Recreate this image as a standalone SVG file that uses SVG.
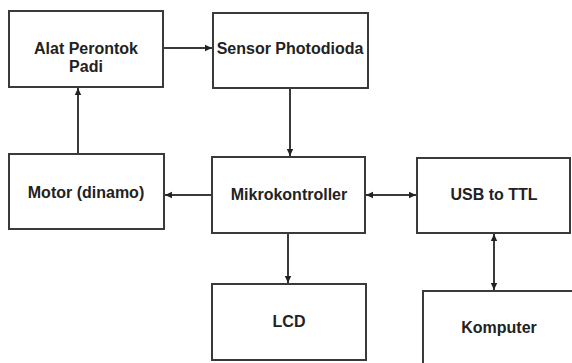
<svg xmlns="http://www.w3.org/2000/svg" width="572" height="363" viewBox="0 0 572 363">
<style>
.box{fill:#fff;stroke:#3a3a3a;stroke-width:2}
.lbl{font-family:"Liberation Sans",Arial,sans-serif;font-weight:bold;font-size:16px;fill:#222;text-anchor:middle}
.con{stroke:#3a3a3a;stroke-width:2;fill:none}
</style>
<defs>
<marker id="ah" markerWidth="8" markerHeight="8" refX="7" refY="4" orient="auto-start-reverse" markerUnits="userSpaceOnUse">
<path d="M0,0.8 L7,4 L0,7.2 Z" fill="#222"/>
</marker>
</defs>
<rect width="572" height="363" fill="#fff"/>
<g id="alat"><rect class="box" x="9" y="11" width="154" height="76"/><text class="lbl" x="86" y="54">Alat Perontok</text><text class="lbl" x="86" y="72">Padi</text></g>
<g id="sensor"><rect class="box" x="213" y="13" width="155" height="75"/><text class="lbl" x="290" y="54">Sensor Photodioda</text></g>
<g id="motor"><rect class="box" x="9" y="154" width="155" height="75"/><text class="lbl" x="86" y="198">Motor (dinamo)</text></g>
<g id="mikro"><rect class="box" x="212" y="157" width="153" height="76"/><text class="lbl" x="289" y="200">Mikrokontroller</text></g>
<g id="usb"><rect class="box" x="417" y="158" width="153" height="75"/><text class="lbl" x="494" y="200">USB to TTL</text></g>
<g id="lcd"><rect class="box" x="212" y="284" width="154" height="76"/><text class="lbl" x="289" y="327">LCD</text></g>
<g id="komputer"><rect class="box" x="423" y="291" width="160" height="80"/><text class="lbl" x="499" y="333">Komputer</text></g>
<g id="connectors">
<line class="con" x1="163" y1="48" x2="212" y2="48" marker-end="url(#ah)"/>
<line class="con" x1="290" y1="88" x2="290" y2="156" marker-end="url(#ah)"/>
<line class="con" x1="78" y1="154" x2="78" y2="88" marker-end="url(#ah)"/>
<line class="con" x1="212" y1="195" x2="165" y2="195" marker-end="url(#ah)"/>
<line class="con" x1="366" y1="195" x2="416" y2="195" marker-start="url(#ah)" marker-end="url(#ah)"/>
<line class="con" x1="288" y1="233" x2="288" y2="283" marker-end="url(#ah)"/>
<line class="con" x1="494" y1="234" x2="494" y2="290" marker-start="url(#ah)" marker-end="url(#ah)"/>
</g>
</svg>
